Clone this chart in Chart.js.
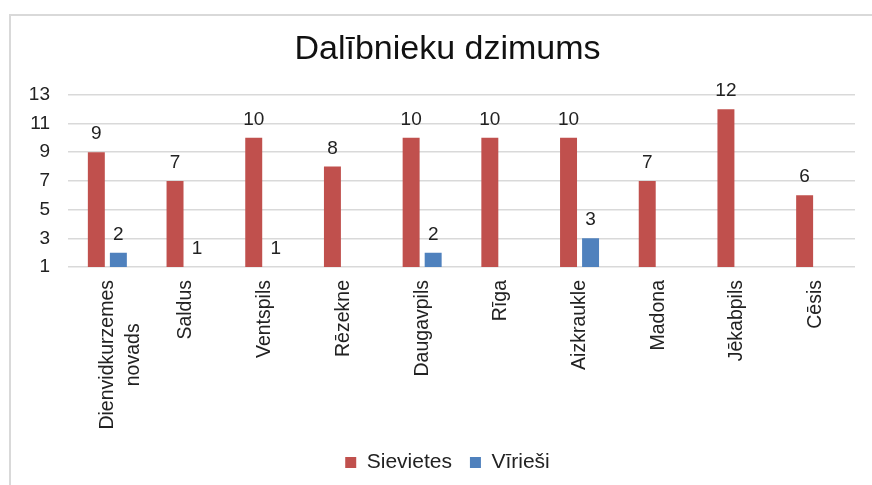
<!DOCTYPE html>
<html>
<head>
<meta charset="utf-8">
<script src="https://cdn.jsdelivr.net/npm/chart.js@4"></script>
<style>
  html, body { margin: 0; padding: 0; background: #fff; overflow: hidden; }
  #frame {
    position: absolute; left: 9px; top: 14px; width: 1000px; height: 1000px;
    border-left: 2px solid #d9d9d9; border-top: 2px solid #d9d9d9;
  }
  #wrap { position: absolute; left: 0; top: 0; width: 872px; height: 485px; }
</style>
</head>
<body>
<div id="frame"></div>
<div id="wrap"><canvas id="chart"></canvas></div>
<script>
const categories = [
  ["Dienvidkurzemes", "novads\u00a0\u00a0\u00a0\u00a0\u00a0\u00a0\u00a0\u00a0"],
  "Saldus", "Ventspils", "Rēzekne", "Daugavpils",
  "Rīga", "Aizkraukle", "Madona", "Jēkabpils", "Cēsis"
]
const sievietes = [9, 7, 10, 8, 10, 10, 10, 7, 12, 6]
const virriesi = [2, 1, 1, null, 2, null, 3, null, null, null]
const yTicks = [1, 3, 5, 7, 9, 11, 13]

const FONT = '"Liberation Sans", Arial, sans-serif'
const TEXT = "#222"

// numbers above the bars
const valueLabels = {
  id: "valueLabels",
  afterDatasetsDraw(chart) {
    const { ctx } = chart
    ctx.save()
    ctx.font = `19px ${FONT}`
    ctx.fillStyle = TEXT
    ctx.textAlign = "center"
    ctx.textBaseline = "alphabetic"
    chart.data.datasets.forEach((ds, i) => {
      chart.getDatasetMeta(i).data.forEach((bar, j) => {
        const v = ds.data[j]
        if (v == null) return
        ctx.fillText(String(v), bar.x, bar.y - 13)
      })
    })
    ctx.restore()
  }
}

// title and legend sit centred over the whole frame, not over the y axis box
const nudge = {
  id: "nudge",
  afterLayout(chart) {
    const dx = 6
    for (const box of [chart.titleBlock, chart.legend]) {
      if (!box) continue
      box.left += dx
      box.right += dx
    }
  }
}

const ctx = document.getElementById("chart").getContext("2d")
new Chart(ctx, {
  type: "bar",
  data: {
    labels: categories,
    datasets: [
      { label: "Sievietes", data: sievietes, backgroundColor: "#c0504d" },
      { label: "Vīrieši", data: virriesi, backgroundColor: "#4f81bd" }
    ]
  },
  plugins: [valueLabels, nudge],
  options: {
    responsive: true,
    maintainAspectRatio: false,
    animation: false,
    categoryPercentage: 0.56,
    barPercentage: 0.77,
    layout: { padding: { left: 28, right: 17, top: 14, bottom: 2 } },
    plugins: {
      title: {
        display: true,
        text: "Dalībnieku dzimums",
        color: "#111",
        font: { family: FONT, size: 34, weight: "normal" },
        padding: { top: 15, bottom: 25 }
      },
      legend: {
        position: "bottom",
        labels: {
          color: TEXT,
          boxWidth: 11,
          boxHeight: 11,
          padding: 18,
          font: { family: FONT, size: 21 }
        }
      },
      tooltip: { enabled: false }
    },
    scales: {
      x: {
        grid: { display: false },
        border: { display: false },
        ticks: {
          color: TEXT,
          minRotation: 90,
          maxRotation: 90,
          autoSkip: false,
          padding: 5,
          font: { family: FONT, size: 19.5, lineHeight: 1.35 }
        },
        afterFit: (scale) => {
          scale.height = 167
          scale.paddingLeft = 0
          scale.paddingRight = 0
        }
      },
      y: {
        min: 1,
        max: 13,
        border: { display: false },
        grid: { color: "#d9d9d9", lineWidth: 1.5, drawTicks: false },
        afterBuildTicks: (scale) => { scale.ticks = yTicks.map(v => ({ value: v })) },
        afterFit: (scale) => { scale.width = 40 },
        ticks: {
          color: TEXT,
          padding: 18,
          font: { family: FONT, size: 19 }
        }
      }
    }
  }
})
</script>
</body>
</html>
